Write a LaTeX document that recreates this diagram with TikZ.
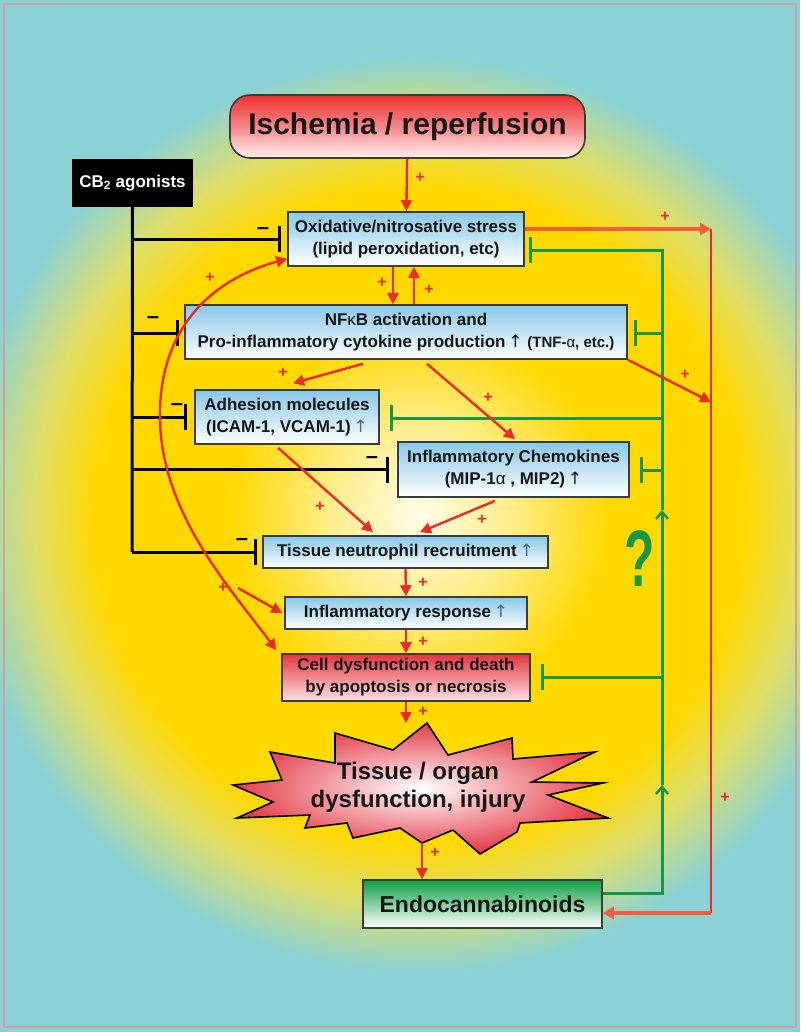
\documentclass[tikz,border=0pt]{standalone}
\usepackage{fontspec}
\setmainfont{Liberation Sans}
\newfontfamily\arrfont{DejaVu Sans}
\usetikzlibrary{arrows.meta,calc}
\definecolor{bgteal}{RGB}{138,210,214}
\definecolor{ylw}{RGB}{255,216,0}
\definecolor{ylwl}{RGB}{255,238,140}
\definecolor{ylwc}{RGB}{255,252,232}
\definecolor{ymix}{RGB}{222,222,105}
\definecolor{lred}{RGB}{236,42,42}
\definecolor{ored}{RGB}{244,92,58}
\definecolor{grn}{RGB}{22,150,72}
\definecolor{boxblue}{RGB}{136,200,232}
\definecolor{boxred}{RGB}{230,52,62}
\definecolor{boxpink}{RGB}{250,225,228}
\definecolor{boxgreen}{RGB}{14,158,68}
\definecolor{ired}{RGB}{238,48,48}
\definecolor{imid}{RGB}{245,135,135}
\definecolor{ipink}{RGB}{255,240,240}
\definecolor{burstred}{RGB}{228,60,72}
\definecolor{framec}{RGB}{210,160,160}
\definecolor{txt}{RGB}{22,22,22}
\definecolor{edgec}{RGB}{55,60,60}
\definecolor{arrgray}{RGB}{90,100,110}
\pgfdeclareradialshading{glow}{\pgfpoint{0bp}{0bp}}{%
 color(0bp)=(ylwc); color(4bp)=(ylwl); color(8.5bp)=(ylw); color(14.5bp)=(ylw); color(17.3bp)=(ymix); color(20.5bp)=(bgteal); color(25bp)=(bgteal); color(50bp)=(bgteal)}
\newcommand{\upar}{{\arrfont\mdseries\,↑}}
\tikzset{
  bx/.style={draw=edgec, line width=1.6pt, inner sep=0pt, align=center,
    font=\fontsize{17}{22}\selectfont\bfseries, text=txt},
  bluebox/.style={bx, top color=boxblue, bottom color=white},
  ra/.style={draw=lred, line width=2.4pt, -{Triangle[length=11pt,width=11pt]}},
  rline/.style={draw=lred, line width=2.6pt},
  gl/.style={draw=grn, line width=3pt},
  gtee/.style={gl, -{Bar[width=26pt,line width=3.5pt]}},
  gup/.style={gl, -{Straight Barb[length=7pt,width=12pt,line width=2.5pt]}},
  bl/.style={draw=black, line width=3pt},
  btee/.style={bl, -{Bar[width=26pt,line width=3.5pt]}},
  pl/.style={text=lred, font=\fontsize{16}{16}\selectfont\bfseries, inner sep=0pt},
  mn/.style={text=black, font=\fontsize{22}{22}\selectfont\bfseries, inner sep=0pt}
}
\begin{document}
\begin{tikzpicture}[x=1pt,y=-1pt]
\useasboundingbox (0,0) rectangle (800,1032);
% background
\begin{scope}
  \clip (0,0) rectangle (800,1032);
  \fill[bgteal] (0,0) rectangle (800,1032);
  \shade[shading=glow] (420,515) circle (560pt);
\end{scope}
\draw[framec, line width=2pt] (4,4) rectangle (796,1027);

% nodes
\node[bx, rounded corners=20pt, top color=ired, bottom color=ipink, middle color=imid,
  minimum width=355pt, minimum height=63pt, font=\fontsize{30}{36}\selectfont\bfseries]
  (isch) at (407.5,126.5) {Ischemia / reperfusion};
\node[fill=black, minimum width=121pt, minimum height=48pt, inner sep=0pt, text=white,
  font=\fontsize{17}{20}\selectfont\bfseries] (cb2) at (132.5,183) {CB\textsubscript{2} agonists};
\node[bluebox, minimum width=236pt, minimum height=54pt] (ox) at (406,239)
  {Oxidative/nitrosative stress\\(lipid peroxidation, etc)};
\node[bluebox, minimum width=442pt, minimum height=54pt] (nfkb) at (406,332)
  {NF{\mdseries κ}B activation and\\Pro-inflammatory cytokine production\upar\ {\fontsize{15}{18}\selectfont(TNF-{\mdseries α}, etc.)}};
\node[bluebox, minimum width=184pt, minimum height=54pt] (adh) at (287,417)
  {Adhesion molecules\\(ICAM-1, VCAM-1){\color{arrgray}\upar}};
\node[bluebox, minimum width=231pt, minimum height=55pt] (chem) at (513.5,469.5)
  {Inflammatory Chemokines\\(MIP-1{\mdseries α} , MIP2)\upar};
\node[bluebox, minimum width=285pt, minimum height=32pt] (tis) at (405.5,552)
  {Tissue neutrophil recruitment{\color{arrgray}\upar}};
\node[bluebox, minimum width=242pt, minimum height=32pt] (infl) at (406,613)
  {Inflammatory response{\color{arrgray}\upar}};
\node[bx, top color=boxred, bottom color=boxpink, minimum width=248pt, minimum height=47pt] (cell) at (406,677.5)
  {Cell dysfunction and death\\by apoptosis or necrosis};
\node[bx, top color=boxgreen, bottom color=white, minimum width=239pt, minimum height=48pt,
  font=\fontsize{23}{26}\selectfont\bfseries] (endo) at (482.5,904) {Endocannabinoids};

% starburst
\shade[draw=black, line width=1.6pt, inner color=white, outer color=burstred, line join=miter]
 (427,723) -- (448,755) -- (512,738) -- (513,759) -- (595,752) -- (532,782) -- (603,783)
 -- (548,795) -- (608,818) -- (520,823) -- (517,832) -- (480,854) -- (453,830) -- (422,843)
 -- (400,828) -- (353,838) -- (347,823) -- (305,828) -- (310,815) -- (237,818) -- (273,802)
 -- (233,785) -- (282,780) -- (270,752) -- (335,763) -- (335,733) -- (393,750) -- cycle;
\node[align=center, text=txt, font=\fontsize{24}{28}\selectfont\bfseries, inner sep=0pt]
  (burst) at (418,787) {Tissue / organ\\dysfunction, injury};
\coordinate (bTop) at (406,723);
\coordinate (bBot) at (422,843);

% coordinates
\coordinate (rTop) at (711,229);
\coordinate (rMid) at (711,402);
\coordinate (rBot) at (711,913);
\coordinate (gA) at (662,785);
\coordinate (gB) at (662,510);
\coordinate (gNF) at (662,333);
\coordinate (gAd) at (662,418);
\coordinate (gCh) at (662,470);
\coordinate (gCe) at (662,677);
\coordinate (bOx) at (132,239);
\coordinate (bNF) at (132,333);
\coordinate (bAd) at (132,417);
\coordinate (bCh) at (132,469.5);
\coordinate (bTi) at (132,552);

% black inhibition from CB2
\draw[bl] (cb2.south) -- (bTi);
\draw[btee, shorten >=6pt] (bOx) -- (bOx -| ox.west);
\draw[btee, shorten >=5pt] (bNF) -- (bNF -| nfkb.west);
\draw[btee, shorten >=7pt] (bAd) -- (bAd -| adh.west);
\draw[btee, shorten >=8pt] (bCh) -- (bCh -| chem.west);
\draw[btee, shorten >=5pt] (bTi) -- (bTi -| tis.west);
\node[mn] (m1) at (263,231) {–};
\node[mn] (m2) at (153,320) {–};
\node[mn] (m3) at (177,407) {–};
\node[mn] (m4) at (372,460) {–};
\node[mn] (m5) at (242,542) {–};

% green from endocannabinoids
\draw[gup] ([yshift=11pt]endo.east) -| (gA);
\draw[gup] (gA) -- (gB);
\draw[gtee, shorten >=4pt] (gB) |- ([yshift=-11pt]ox.east);
\draw[gtee, shorten >=6pt] (gNF) -- (gNF -| nfkb.east);
\draw[gtee, shorten >=10pt] (gAd) -- (gAd -| adh.east);
\draw[gtee, shorten >=10pt] (gCh) -- (gCh -| chem.east);
\draw[gtee, shorten >=10pt] (gCe) -- (gCe -| cell.east);
\node[text=grn, font=\fontsize{80}{80}\selectfont\bfseries, inner sep=0pt] (qm) at (640,559) {\scalebox{0.62}[1]{?}};

% red feedback loop
\draw[draw=ored, line width=3.5pt, -{Triangle[length=11pt,width=12pt]}] ([yshift=10pt]ox.east) -- (rTop);
\draw[rline] (rTop) -- (rBot);
\draw[draw=ored, line width=3.5pt, -{Triangle[length=11pt,width=12pt]}] (rBot) -- ([yshift=-9pt]endo.east);
\draw[ra] (nfkb.south east) -- (rMid);

% red main chain
\draw[ra] (isch) -- (ox);
\draw[ra] ([xshift=-13pt]ox.south) -- ([xshift=-13pt]nfkb.north);
\draw[ra] ([xshift=8pt]nfkb.north) -- ([xshift=8pt]ox.south);
\draw[ra] ([xshift=-43pt,yshift=-4pt]nfkb.south) -- ([xshift=6pt,yshift=6pt]adh.north);
\draw[ra] ([xshift=21pt,yshift=-4pt]nfkb.south) -- ([xshift=1.5pt,yshift=2pt]chem.north);
\draw[ra] ([xshift=-9pt,yshift=-3pt]adh.south) -- ([xshift=-32.5pt,yshift=3pt]tis.north);
\draw[ra] ([xshift=-18.5pt,yshift=-3pt]chem.south) -- ([xshift=14.5pt,yshift=3pt]tis.north);
\draw[ra] (tis.south) -- (infl.north);
\draw[ra] (infl.south) -- (cell.north);
\draw[ra] (cell.south) -- (bTop);
\draw[ra] (bBot) -- (bBot |- endo.north);

% big curve
\coordinate (cv) at (160,420);
\coordinate (brS) at (238,588);
\draw[ra, {Triangle[length=11pt,width=11pt]}-{Triangle[length=11pt,width=11pt]}]
  ([xshift=-5pt,yshift=3pt]cell.north west) .. controls (232,590) and (162,515) .. (cv)
  .. controls (158,340) and (200,283) .. ([yshift=8pt]ox.south west);
\draw[ra] (brS) -- ([xshift=-2pt]infl.west);

% plus labels
\node[pl] (p1) at (420,178) {+};
\node[pl] (p2) at (665,217) {+};
\node[pl] (p3) at (382,283) {+};
\node[pl] (p4) at (429,290) {+};
\node[pl] (p5) at (685,375) {+};
\node[pl] (p6) at (283,373) {+};
\node[pl] (p7) at (488,398) {+};
\node[pl] (p8) at (210,278) {+};
\node[pl] (p9) at (320,507) {+};
\node[pl] (p10) at (482,520) {+};
\node[pl] (p11) at (423,583) {+};
\node[pl] (p12) at (223,588) {+};
\node[pl] (p13) at (423,642) {+};
\node[pl] (p14) at (423,712) {+};
\node[pl] (p15) at (435,853) {+};
\node[pl] (p16) at (725,798) {+};
\end{tikzpicture}
\end{document}
